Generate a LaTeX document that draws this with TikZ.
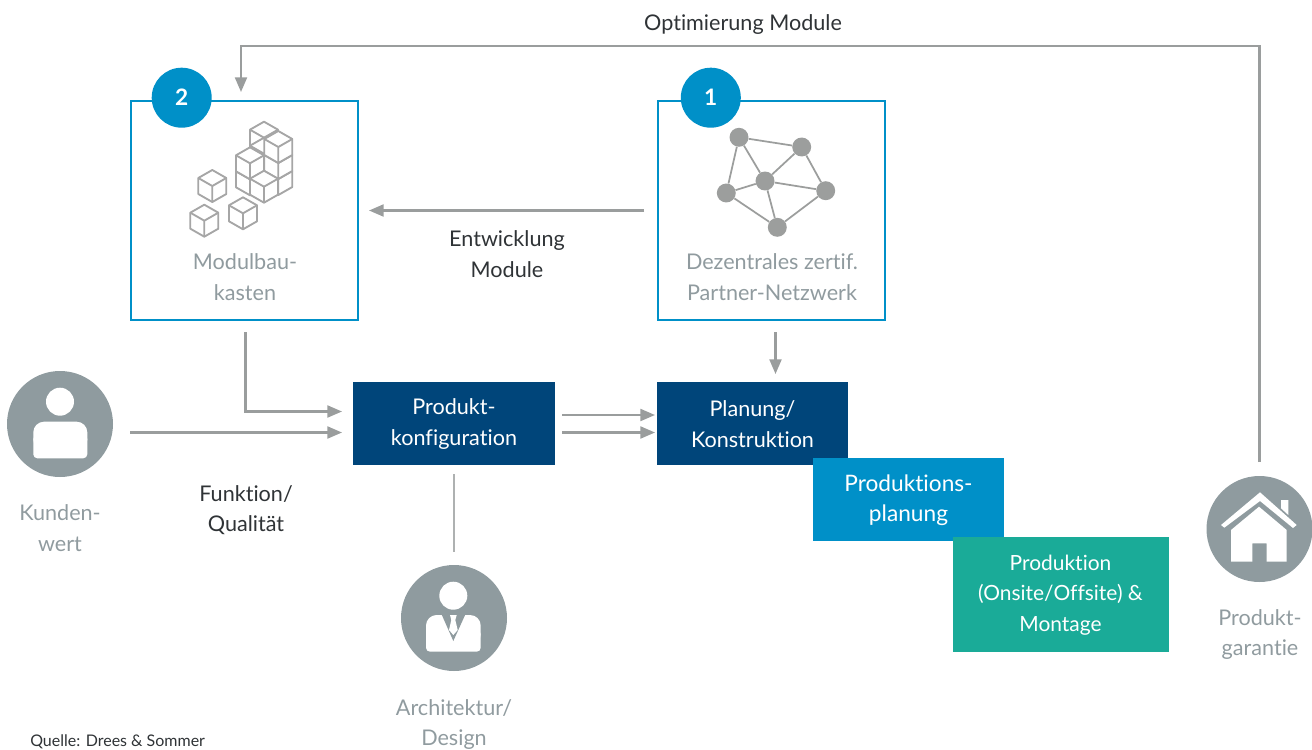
\documentclass[tikz,border=0pt]{standalone}
\usepackage{fontspec}
\setmainfont{Lato}[Ligatures=NoCommon]
\usetikzlibrary{arrows.meta}
\definecolor{bluebox}{HTML}{0090C8}
\definecolor{navy}{HTML}{00457A}
\definecolor{teal2}{HTML}{1AAB98}
\definecolor{arrowgray}{HTML}{9A9D9D}
\definecolor{icongray}{HTML}{8F9B9F}
\definecolor{labelgray}{HTML}{909B9F}
\definecolor{cubegray}{HTML}{A6A6A6}
\definecolor{netgray}{HTML}{9C9E9D}
\definecolor{textdark}{HTML}{2F3336}
\tikzset{
  txt/.style={inner sep=0pt,align=center,font=\fontsize{16.2}{22.9}\selectfont},
  darktxt/.style={txt,text=textdark},
  graytxt/.style={txt,text=labelgray},
  outlinebox/.style={draw=bluebox,line width=1.5pt,fill=white},
  solidbox/.style={inner sep=0pt,align=center,text=white,font=\fontsize{16.2}{22.9}\selectfont},
  badge/.style={circle,fill=bluebox,minimum size=45pt,inner sep=0pt,text=white,font=\fontsize{17}{18}\bfseries\selectfont},
  iconcircle/.style={circle,fill=icongray,minimum size=79.5pt,inner sep=0pt},
  flow/.style={draw=arrowgray,line width=1.6pt,-{Triangle[length=11pt,width=9pt]}},
  cubeline/.style={draw=cubegray,line width=1.4pt,fill=white,line join=round},
  netnode/.style={circle,fill=netgray,minimum size=14.2pt,inner sep=0pt},
  netline/.style={draw=netgray,line width=1.3pt}
}
\newcommand{\isocube}[2]{%
  \path[cubeline] (#1,#2) -- ++(14,8) -- ++(0,16) -- ++(-14,8) -- ++(-14,-8) -- ++(0,-16) -- cycle;
  \path[cubeline,fill=none] (#1-14,#2+8) -- (#1,#2+16) -- (#1+14,#2+8) (#1,#2+16) -- (#1,#2+32);
}
\begin{document}
\begin{tikzpicture}[x=0.75pt,y=-0.75pt]
\useasboundingbox (0,0) rectangle (1312,749);

% outline boxes
\draw[outlinebox] (131,100.5) rectangle (358,320);
\draw[outlinebox] (658,100.5) rectangle (885,320);
\coordinate (box2bottom) at (245.5,332);
\coordinate (box1bottom) at (775.5,332);
\coordinate (box1left) at (644,210.5);
\coordinate (box2right) at (369,210.5);

\node[badge] (b2) at (181.7,97.7) {2};
\node[badge] (b1) at (710.8,97.7) {1};

% cubes
\isocube{264}{121.7}
\isocube{264}{137.7}
\isocube{278.3}{163}
\isocube{278.3}{147}
\isocube{278.3}{131}
\isocube{250}{163.3}
\isocube{250}{147.3}
\isocube{264}{170.7}
\isocube{212.3}{170}
\isocube{204.3}{204.7}
\isocube{243}{197.3}

% network
\node[netnode] (na) at (739,137.3) {};
\node[netnode] (nb) at (801.7,147) {};
\node[netnode] (nc) at (765,181) {};
\node[netnode] (nd) at (726.3,193) {};
\node[netnode] (ne) at (825.7,190.7) {};
\node[netnode] (nf) at (777.3,227.3) {};
\foreach \p/\q in {na/nb,na/nc,na/nd,nb/nc,nb/ne,nc/nd,nc/ne,nc/nf,nd/nf,ne/nf}
  \draw[netline] (\p) -- (\q);

\node[graytxt] (t2) at (245,277) {Modulbau-\\kasten};
\node[graytxt] (t1) at (772,277) {Dezentrales zertif.\\Partner-Netzwerk};

% solid boxes
\node[solidbox,fill=navy,minimum width=151.5pt,minimum height=62.25pt] (konf) at (454,423.5) {};
\node[solidbox] (konft) at (454,424) {Produkt-\\konfiguration};
\node[solidbox,fill=navy,minimum width=143.25pt,minimum height=62.25pt] (plan) at (752.5,423.5) {};
\node[solidbox] (plant) at (752.5,424) {Planung/\\Konstruktion};
\node[solidbox,fill=bluebox,minimum width=143.25pt,minimum height=62.25pt] (prodplan) at (908.5,499.5) {};
\node[solidbox,font=\fontsize{17}{22.9}\selectfont] (prodplant) at (908.5,500) {Produktions-\\planung};
\node[solidbox,fill=teal2,minimum width=162pt,minimum height=86.25pt] (prod) at (1061,594.5) {};
\node[solidbox,font=\fontsize{15.7}{22.9}\selectfont] (prodt) at (1060.5,595) {Produktion\\(Onsite/Offsite) \&\\Montage};

% icons
\node[iconcircle] (kunde) at (60,424) {};
\fill[white] (60,401.7) circle (14);
\fill[white,rounded corners=8pt] (33.3,450) -- (33.3,421.7) -- (87.3,421.7) -- (87.3,450) -- cycle;
\fill[white,rounded corners=3pt] (33.3,458.3) -- (33.3,435) -- (87.3,435) -- (87.3,458.3) -- cycle;

\node[iconcircle] (arch) at (454,618) {};
\fill[white] (453.3,595.7) circle (14);
\fill[white,rounded corners=8pt] (426,645) -- (426,615) -- (480.7,615) -- (480.7,645) -- cycle;
\fill[white,rounded corners=3pt] (426,651.7) -- (426,630) -- (480.7,630) -- (480.7,651.7) -- cycle;
\fill[icongray] (441,613) -- (453.3,641) -- (466,613) -- cycle;
\fill[white] (450,615) -- (456.7,615) -- (455.3,620) -- (457.7,630) -- (453.3,635) -- (449,630) -- (451.3,620) -- cycle;

\node[iconcircle] (haus) at (1259.5,529) {};
\fill[white] (1221,525) -- (1260,492.3) -- (1296.7,525) -- (1293,528) -- (1260,501) -- (1224.3,527.7) -- cycle;
\fill[white] (1231,530) -- (1259,506.7) -- (1286.7,530) -- (1286.7,561.7) -- (1266.7,561.7) -- (1266.7,543.3) -- (1252.3,543.3) -- (1252.3,561.7) -- (1231,561.7) -- cycle;
\fill[white] (1281,500) -- (1288.3,500) -- (1288.3,515) -- (1281,508.3) -- cycle;

% labels
\node[darktxt] (topl) at (743,25) {Optimierung Module};
\node[darktxt] (entw) at (507,254) {Entwicklung\\Module};
\node[darktxt] (funk) at (246,510) {Funktion/\\Qualität};
\node[graytxt] (kl) at (60,528) {Kunden-\\wert};
\node[graytxt] (al) at (454,724.5) {Architektur/\\Design};
\node[graytxt] (hl) at (1260,634.5) {Produkt-\\garantie};
\node[anchor=west,inner sep=0pt,text=textdark,font=\fontsize{12}{14}\selectfont] (src) at (30,742) {Quelle: Drees \& Sommer};

% connectors
\coordinate (hausup) at (1259.5,462);
\coordinate (optend) at (241,92);
\draw[flow] (hausup) |- (optend |- 0,46) -- (optend);
\draw[flow] (box1left) -- (box2right);
\coordinate (konfa) at (342,411.5);
\coordinate (konfb) at (342,432.5);
\coordinate (kundeout) at (130,432.5);
\draw[flow] (box2bottom) |- (konfa);
\draw[flow] (kundeout) -- (konfb);
\coordinate (kpa) at (562,415);
\coordinate (kpb) at (562,432.5);
\coordinate (ppa) at (655,415);
\coordinate (ppb) at (655,432.5);
\draw[flow] (kpa) -- (ppa);
\draw[flow] (kpb) -- (ppb);
\coordinate (planin) at (775.5,374);
\draw[flow] (box1bottom) -- (planin);
\coordinate (konfdown) at (454,474);
\coordinate (archup) at (454,552);
\draw[draw=arrowgray!80,line width=1.4pt] (konfdown) -- (archup);
\end{tikzpicture}
\end{document}
